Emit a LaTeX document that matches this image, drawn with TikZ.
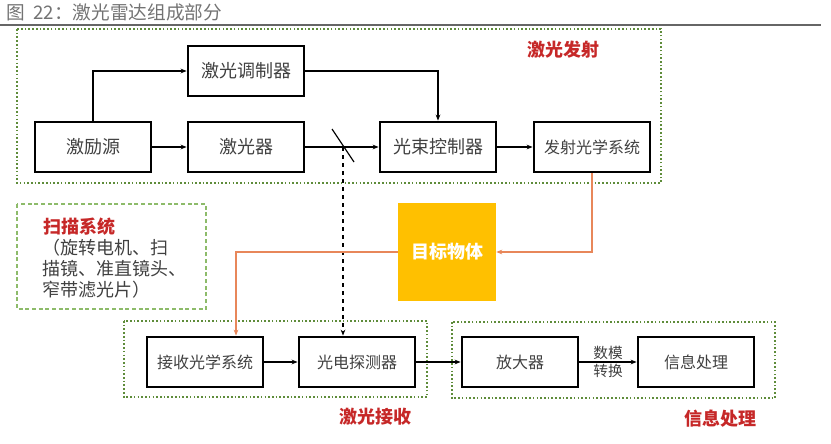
\documentclass[tikz,border=0pt]{standalone}
\usepackage{fontspec}
\setmainfont{Noto Sans CJK SC}
\usetikzlibrary{arrows.meta}
\usepackage{xcolor}
\definecolor{grp}{HTML}{5E8C3A}
\definecolor{scangrp}{HTML}{8DBB6A}
\definecolor{lbl}{HTML}{C62828}
\definecolor{txt}{HTML}{404040}
\definecolor{tgt}{HTML}{FFC000}
\definecolor{ray}{HTML}{E8875A}

\tikzset{
  blk/.style={draw, line width=2.1pt, text=txt, minimum width=87pt, minimum height=37.5pt, inner sep=0.75pt, font=\fontsize{13.5}{15}\selectfont},
  blksm/.style={blk, font=\fontsize{12}{14}\selectfont},
  grpbox/.style={grp, line width=1.6pt, dash pattern=on 1.2pt off 1.6pt},
  grplbl/.style={text=lbl, font=\fontsize{13.5}{15}\selectfont\bfseries, inner sep=0.75pt},
  arr/.style={-{Stealth[length=4.5pt,width=3.5pt]}, line width=0.9pt},
}

\begin{document}
\begin{tikzpicture}[x=0.75pt,y=0.75pt,yscale=-1,xscale=1]
    \useasboundingbox (0,0) rectangle (831,443);

    % Title
    \node (title) [anchor=west, inner sep=0.75pt, text=gray!90!black, font=\fontsize{14}{16}\selectfont] at (5,12) {图\ \ 22：激光雷达组成部分};
    \draw [gray!80!black, line width=1.5pt] (0,25) -- (821,25);

    % Group frames
    \draw [grpbox] (17,29) rectangle (661,183);
    \draw [scangrp, line width=1.4pt, dash pattern=on 3pt off 2pt] (17,204) rectangle (206,309);
    \draw [grpbox] (124,321) rectangle (427,397);
    \draw [grpbox] (452,322) rectangle (775,398);

    % Group labels
    \node (lblTx) [grplbl] at (563,50) {激光发射};
    \node (lblRx) [grplbl] at (375,417) {激光接收};
    \node (lblProc) [grplbl] at (720,419) {信息处理};

    % Scan system text
    \node (scanT) [grplbl, anchor=west] at (42,227) {扫描系统};
    \node (scanD) [anchor=north west, inner sep=0pt, text=txt, align=left, font=\fontsize{13.5}{15.75}\selectfont] at (42,239) {（旋转电机、扫\\描镜、准直镜头、\\窄带滤光片）};

    % Emission blocks
    \node (src) [blk] at (93,147) {激励源};
    \node (laser) [blk] at (246,147) {激光器};
    \node (mod) [blk] at (246,71) {激光调制器};
    \node (beam) [blk] at (438,147) {光束控制器};
    \node (tx) [blksm] at (592,147) {发射光学系统};

    % Target
    \node (target) [fill=tgt, minimum width=73.5pt, minimum height=73.5pt, text=white, font=\fontsize{13.5}{15}\selectfont\bfseries] at (447,252) {目标物体};

    % Receiving / processing blocks
    \node (rx) [blksm] at (205,362) {接收光学系统};
    \node (det) [blksm] at (357,362) {光电探测器};
    \node (amp) [blksm] at (520,362) {放大器};
    \node (info) [blksm] at (696,362) {信息处理};

    % Emission path
    \draw [arr] (src.north) |- (mod.west);
    \draw [arr] (mod.east) -| (beam.north);
    \draw [arr] (src) -- (laser);
    \draw [arr] (laser) -- (beam);
    \draw [arr] (beam) -- (tx);

    % Beam splitter
    \coordinate (bs) at (343,147);
    \draw [line width=0.9pt] (332,129) -- (354,162);
    \draw [arr, dashed] (bs) -- (bs |- det.north);

    % Optical path via target
    \draw [ray, arr] (tx.south) |- (target.east);
    \draw [ray, arr] (target.west) -| ([xshift=23.25pt]rx.north);

    % Receiving path
    \draw [arr] (rx) -- (det);
    \draw [arr] (det) -- (amp);
    \draw [arr] (amp) -- node [midway, align=center, text=txt, inner sep=0.75pt, font=\fontsize{11}{14}\selectfont] {数模\\转换} (info);

\end{tikzpicture}
\end{document}
